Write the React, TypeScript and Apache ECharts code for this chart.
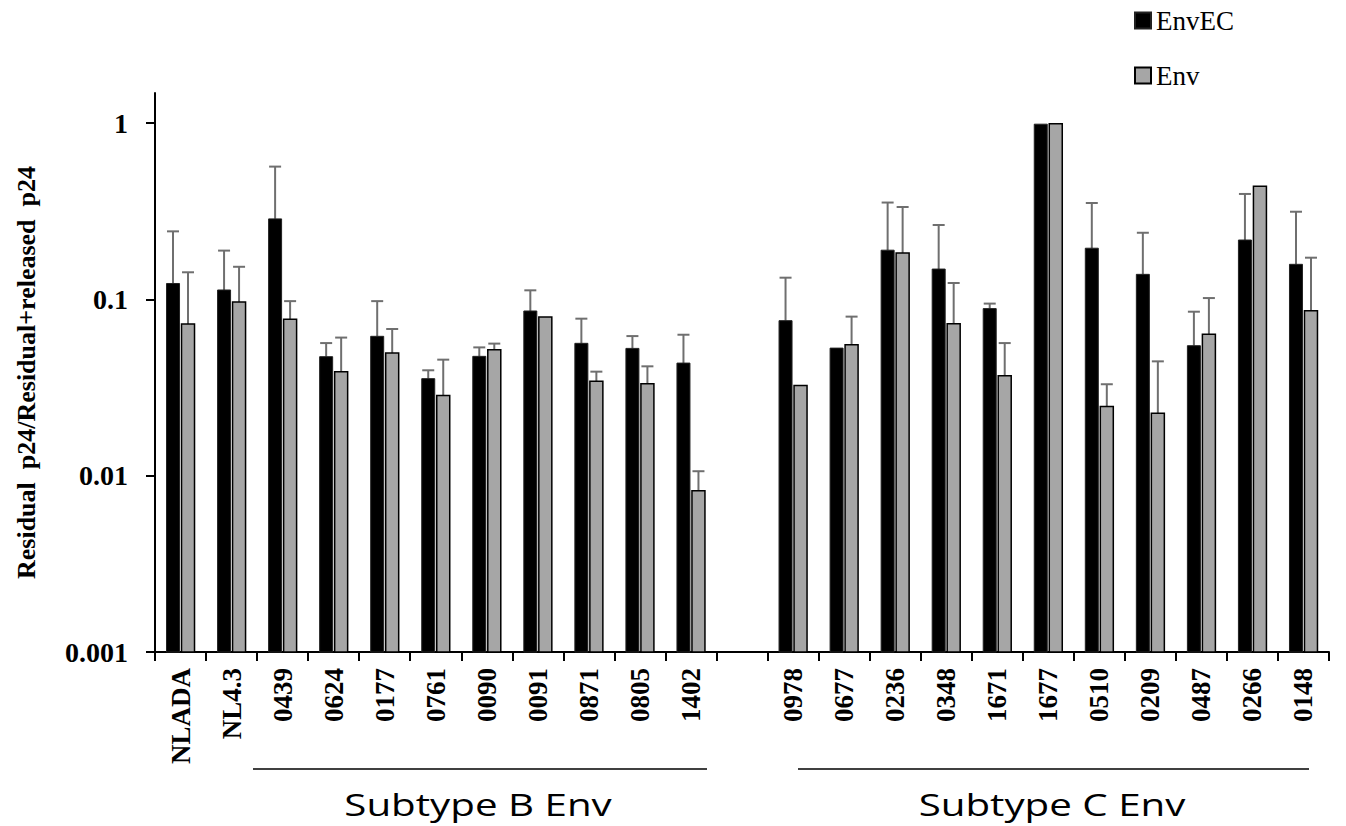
import React, { useEffect, useRef } from "react";
import * as echarts from "echarts";

const categories = ["NLADA", "NL4.3", "0439", "0624", "0177", "0761", "0090", "0091", "0871", "0805", "1402", "", "0978", "0677", "0236", "0348", "1671", "1677", "0510", "0209", "0487", "0266", "0148"];
const envEC = [0.123, 0.113, 0.286, 0.0473, 0.0617, 0.0355, 0.0475, 0.0859, 0.0563, 0.0527, 0.0435, null, 0.0757, 0.0529, 0.19, 0.1485, 0.0886, 0.985, 0.195, 0.1386, 0.0546, 0.217, 0.158];
const envECErr = [0.12, 0.076, 0.28, 0.0092, 0.036, 0.0041, 0.0059, 0.0266, 0.0214, 0.0092, 0.0195, null, 0.057, 0, 0.164, 0.1155, 0.006, 0, 0.157, 0.1, 0.0305, 0.179, 0.156];
const env = [0.0724, 0.0966, 0.0772, 0.0389, 0.0496, 0.0285, 0.0518, 0.0794, 0.0343, 0.0332, 0.0082, null, 0.0325, 0.0553, 0.183, 0.0728, 0.0369, 0.99, 0.0247, 0.0226, 0.0633, 0.4375, 0.0863];
const envErr = [0.07, 0.0564, 0.0205, 0.0218, 0.0183, 0.017, 0.0043, 0, 0.0046, 0.0085, 0.0024, null, 0, 0.0245, 0.151, 0.051, 0.0196, 0, 0.0083, 0.0219, 0.0384, 0, 0.086];
const yTicks = [0.001, 0.01, 0.1, 1];
const Y_MIN = 0.001;
const Y_MAX = 1.48;
const seriesNames = ["EnvEC", "Env"];
const groupLabels = ["Subtype B Env", "Subtype C Env"];

const BAR_W = 13;
const BAR_GAP = 2;

function barData(means: (number | null)[]) {
  const out: any[] = [];
  means.forEach((m, i) => {
    if (m != null) out.push([i, m]);
  });
  return out;
}

function errData(means: (number | null)[], errs: (number | null)[]) {
  const out: any[] = [];
  means.forEach((m, i) => {
    const e = errs[i];
    if (m != null && e != null && e > 0) out.push([i, m, m + e]);
  });
  return out;
}

function barSeries(name: string, data: any[], offset: number, fill: string, stroke: string, lw: number) {
  return {
    type: "custom",
    name,
    z: 3,
    data,
    itemStyle: { color: fill, borderColor: stroke, borderWidth: lw },
    encode: { x: 0, y: 1 },
    renderItem: (params: any, api: any) => {
      const top = api.coord([api.value(0), api.value(1)]);
      const bottom = api.coord([api.value(0), Y_MIN]);
      const cx = top[0] + offset;
      return {
        type: "rect",
        shape: { x: cx - BAR_W / 2, y: top[1], width: BAR_W, height: bottom[1] - top[1] },
        style: { fill, stroke, lineWidth: lw },
      };
    },
  };
}

function errSeries(name: string, data: any[], offset: number) {
  return {
    type: "custom",
    name: name + "-err",
    z: 2,
    silent: true,
    data,
    encode: { x: 0, y: [1, 2] },
    renderItem: (params: any, api: any) => {
      const base = api.coord([api.value(0), api.value(1)]);
      const top = api.coord([api.value(0), api.value(2)]);
      const x = base[0] + offset;
      const style = { stroke: "#6f6f6f", lineWidth: 2 };
      return {
        type: "group",
        children: [
          { type: "line", shape: { x1: x, y1: base[1], x2: x, y2: top[1] }, style },
          { type: "line", shape: { x1: x - 6, y1: top[1], x2: x + 6, y2: top[1] }, style },
        ],
      };
    },
  };
}

export default function App() {
  const ref = useRef<HTMLDivElement>(null);
  useEffect(() => {
    document.body.style.margin = "0";
    const chart = echarts.init(ref.current!, null, { renderer: "svg" });
    const half = (BAR_W + BAR_GAP) / 2;
    chart.setOption({
      animation: false,
      backgroundColor: "#fff",
      legend: {
        orient: "vertical",
        left: 1129,
        top: 2,
        icon: "rect",
        itemWidth: 16,
        itemHeight: 16,
        itemGap: 28,
        data: seriesNames,
        textStyle: { fontFamily: "Liberation Serif", fontSize: 27, color: "#000" },
      },
      grid: { left: 155, right: 17, top: 93, bottom: 174, containLabel: false },
      xAxis: {
        type: "category",
        data: categories,
        axisLine: { lineStyle: { color: "#000", width: 2 } },
        axisTick: { show: true, length: 9, interval: 0, lineStyle: { color: "#000", width: 2 } },
        axisLabel: {
          interval: 0,
          rotate: 90,
          margin: 16,
          fontFamily: "Liberation Serif",
          fontWeight: "bold",
          fontSize: 27,
          color: "#000",
        },
      },
      yAxis: {
        type: "log",
        logBase: 10,
        min: Y_MIN,
        max: Y_MAX,
        name: "Residual  p24/Residual+released  p24",
        nameLocation: "middle",
        nameGap: 116,
        nameTextStyle: { fontFamily: "Liberation Serif", fontWeight: "bold", fontSize: 26, color: "#000" },
        axisLine: { show: true, lineStyle: { color: "#000", width: 2 } },
        axisTick: { show: true, length: 9, customValues: yTicks, lineStyle: { color: "#000", width: 2 } },
        splitLine: { show: false },
        axisLabel: {
          customValues: yTicks,
          margin: 27,
          fontFamily: "Liberation Serif",
          fontWeight: "bold",
          fontSize: 28,
          color: "#000",
          formatter: (v: number) => String(Number(v.toPrecision(1))),
        },
      },
      series: [
        errSeries(seriesNames[0], errData(envEC, envECErr), -half),
        errSeries(seriesNames[1], errData(env, envErr), half),
        barSeries(seriesNames[0], barData(envEC), -half, "#000", "#222", 1),
        barSeries(seriesNames[1], barData(env), half, "#a6a6a6", "#000", 1.5),
      ],
      graphic: [
        { type: "line", shape: { x1: 253, y1: 769, x2: 707, y2: 769 }, style: { stroke: "#000", lineWidth: 1.5 } },
        { type: "line", shape: { x1: 798, y1: 769, x2: 1309, y2: 769 }, style: { stroke: "#000", lineWidth: 1.5 } },
        {
          type: "text",
          x: 478,
          y: 804,
          scaleX: 1.3,
          style: { text: groupLabels[0], fontFamily: "Open Sans", fontSize: 31, fill: "#000", align: "center", verticalAlign: "middle" },
        },
        {
          type: "text",
          x: 1052,
          y: 804,
          scaleX: 1.3,
          style: { text: groupLabels[1], fontFamily: "Open Sans", fontSize: 31, fill: "#000", align: "center", verticalAlign: "middle" },
        },
      ],
    });
    return () => chart.dispose();
  }, []);
  return <div ref={ref} style={{ width: 1346, height: 826 }} />;
}
